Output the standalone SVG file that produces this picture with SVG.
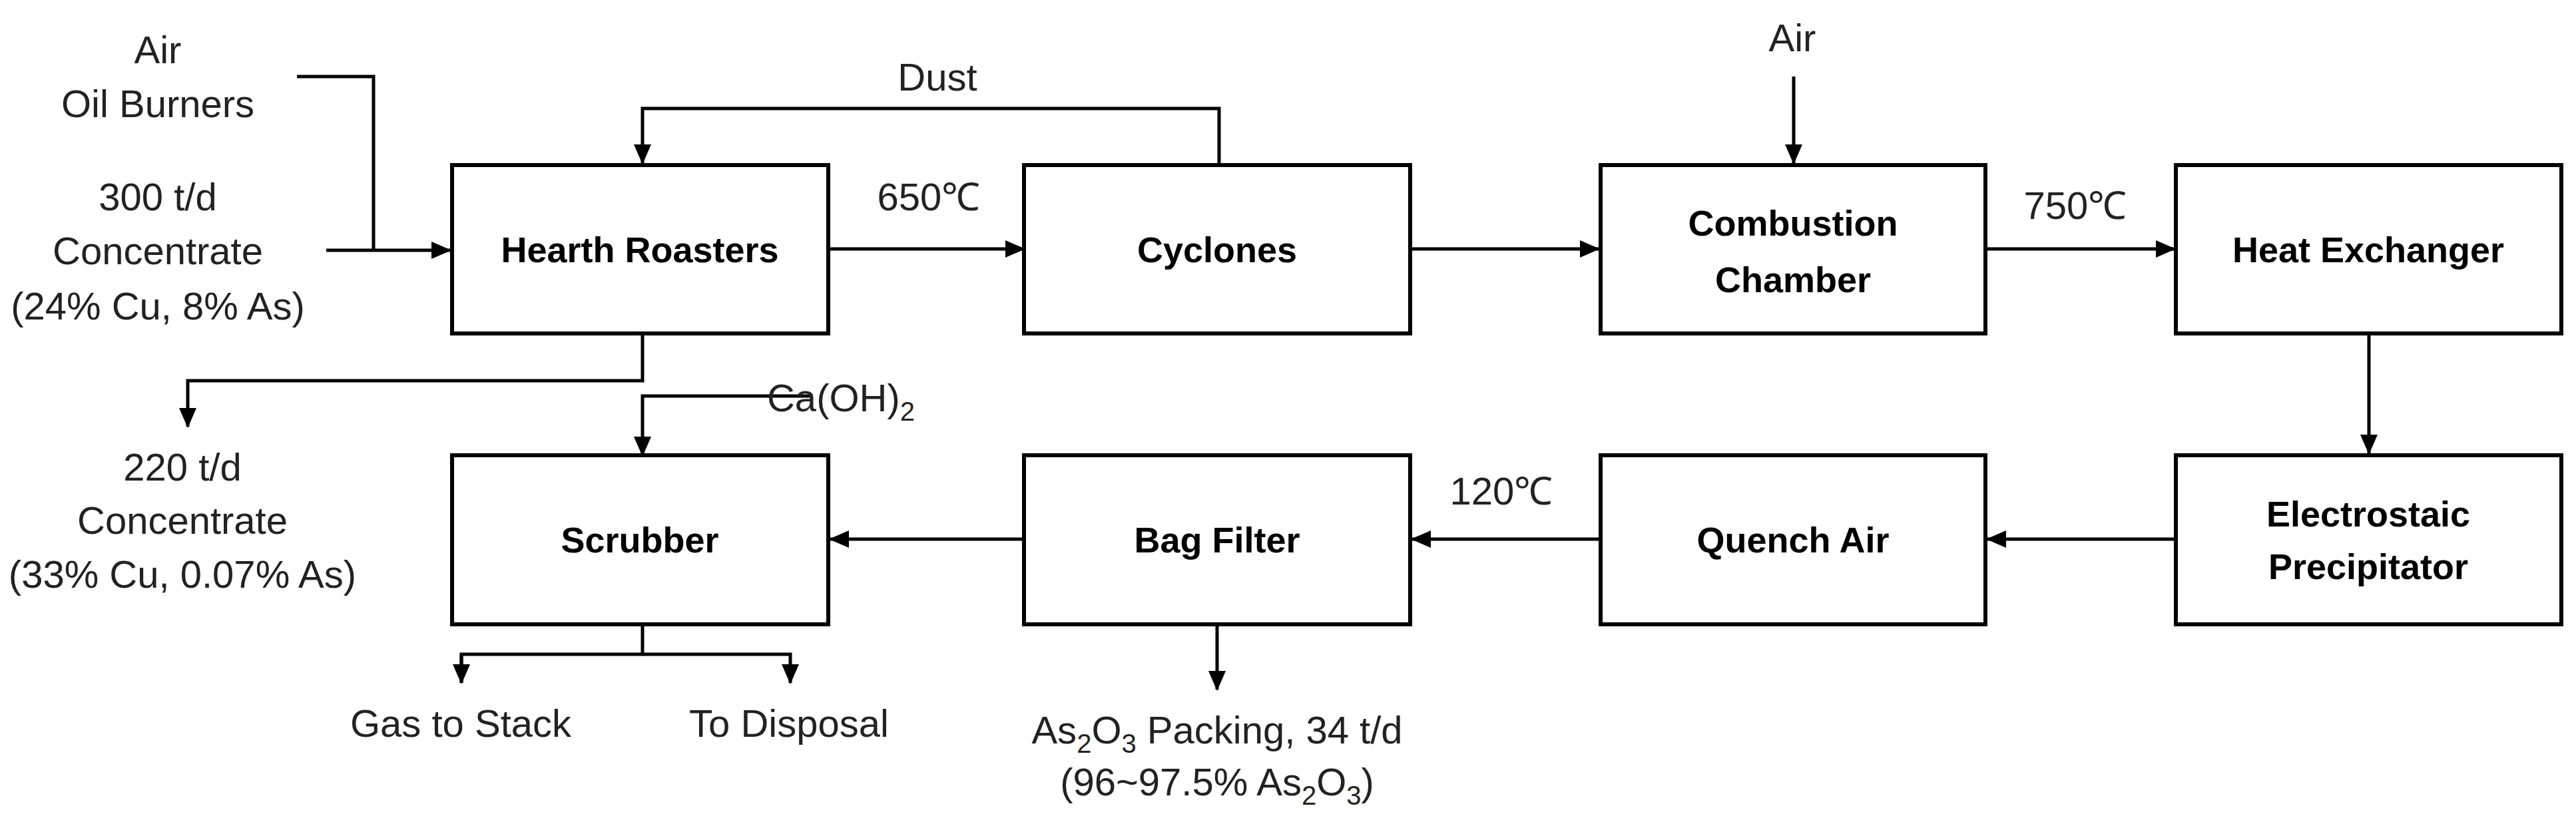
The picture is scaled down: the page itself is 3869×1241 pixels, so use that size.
<svg xmlns="http://www.w3.org/2000/svg" width="3869" height="1241" viewBox="0 0 3869 1241">
<style>
.box{fill:#fff;stroke:#000;stroke-width:6}
.c{fill:none;stroke:#000;stroke-width:5}
.t{font-family:"Liberation Sans",Arial,sans-serif;font-size:58px;fill:#222;text-anchor:middle}
.b{font-family:"Liberation Sans",Arial,sans-serif;font-size:54px;font-weight:bold;fill:#000;text-anchor:middle}
</style>
<defs>
<marker id="a" markerUnits="userSpaceOnUse" markerWidth="30" markerHeight="26" refX="28" refY="13" orient="auto"><path d="M0,0 L30,13 L0,26 z" fill="#000"/></marker>
</defs>
<rect width="3869" height="1241" fill="#fff"/>
<g id="connectors">
<path class="c" d="M446,115 H561 V376"/>
<path class="c" d="M490,376 H676" marker-end="url(#a)"/>
<path class="c" d="M1244,374 H1538" marker-end="url(#a)"/>
<path class="c" d="M1831,248 V163 H965 V245" marker-end="url(#a)"/>
<path class="c" d="M2118,374 H2401" marker-end="url(#a)"/>
<path class="c" d="M2694,115 V245" marker-end="url(#a)"/>
<path class="c" d="M2982,374 H3266" marker-end="url(#a)"/>
<path class="c" d="M3558,503 V681" marker-end="url(#a)"/>
<path class="c" d="M3268,810 H2985" marker-end="url(#a)"/>
<path class="c" d="M2404,810 H2121" marker-end="url(#a)"/>
<path class="c" d="M1538,810 H1247" marker-end="url(#a)"/>
<path class="c" d="M965,501 V572 H282 V641" marker-end="url(#a)"/>
<path class="c" d="M1221,595 H965 V684" marker-end="url(#a)"/>
<path class="c" d="M965,938 V983"/>
<path class="c" d="M693,1026 V983 H1187 V1026" marker-end="url(#a)"/>
<path class="c" d="M693,983 V1026" marker-end="url(#a)"/>
<path class="c" d="M1828,938 V1036" marker-end="url(#a)"/>
</g>
<g id="hearth"><rect class="box" x="679" y="248" width="565" height="253"/><text class="b" x="961" y="394">Hearth Roasters</text></g>
<g id="cyclones"><rect class="box" x="1538" y="248" width="580" height="253"/><text class="b" x="1828" y="394">Cyclones</text></g>
<g id="combustion"><rect class="box" x="2404" y="248" width="578" height="253"/><text class="b" x="2693" y="354">Combustion</text><text class="b" x="2693" y="439">Chamber</text></g>
<g id="heatex"><rect class="box" x="3268" y="248" width="579" height="253"/><text class="b" x="3557" y="394">Heat Exchanger</text></g>
<g id="esp"><rect class="box" x="3268" y="684" width="579" height="254"/><text class="b" x="3557" y="791">Electrostaic</text><text class="b" x="3557" y="870">Precipitator</text></g>
<g id="quench"><rect class="box" x="2404" y="684" width="578" height="254"/><text class="b" x="2693" y="830">Quench Air</text></g>
<g id="bag"><rect class="box" x="1538" y="684" width="580" height="254"/><text class="b" x="1828" y="830">Bag Filter</text></g>
<g id="scrubber"><rect class="box" x="679" y="684" width="565" height="254"/><text class="b" x="961" y="830">Scrubber</text></g>
<g id="labels">
<text class="t" x="237" y="95">Air</text>
<text class="t" x="237" y="176">Oil Burners</text>
<text class="t" x="237" y="316">300 t/d</text>
<text class="t" x="237" y="397">Concentrate</text>
<text class="t" x="237" y="480">(24% Cu, 8% As)</text>
<text class="t" x="1408" y="136">Dust</text>
<text class="t" x="1395" y="316">650℃</text>
<text class="t" x="2692" y="77">Air</text>
<text class="t" x="3117" y="329">750℃</text>
<text class="t" x="2255" y="758">120℃</text>
<text class="t" x="1263" y="618" text-anchor="start">Ca(OH)<tspan font-size="40" dy="14">2</tspan></text>
<text class="t" x="274" y="722">220 t/d</text>
<text class="t" x="274" y="802">Concentrate</text>
<text class="t" x="274" y="883">(33% Cu, 0.07% As)</text>
<text class="t" x="692" y="1107">Gas to Stack</text>
<text class="t" x="1185" y="1107">To Disposal</text>
<text class="t" x="1828" y="1117">As<tspan font-size="40" dy="14">2</tspan><tspan dy="-14">O</tspan><tspan font-size="40" dy="14">3</tspan><tspan dy="-14"> Packing, 34 t/d</tspan></text>
<text class="t" x="1828" y="1195">(96~97.5% As<tspan font-size="40" dy="14">2</tspan><tspan dy="-14">O</tspan><tspan font-size="40" dy="14">3</tspan><tspan dy="-14">)</tspan></text>
</g>
</svg>
